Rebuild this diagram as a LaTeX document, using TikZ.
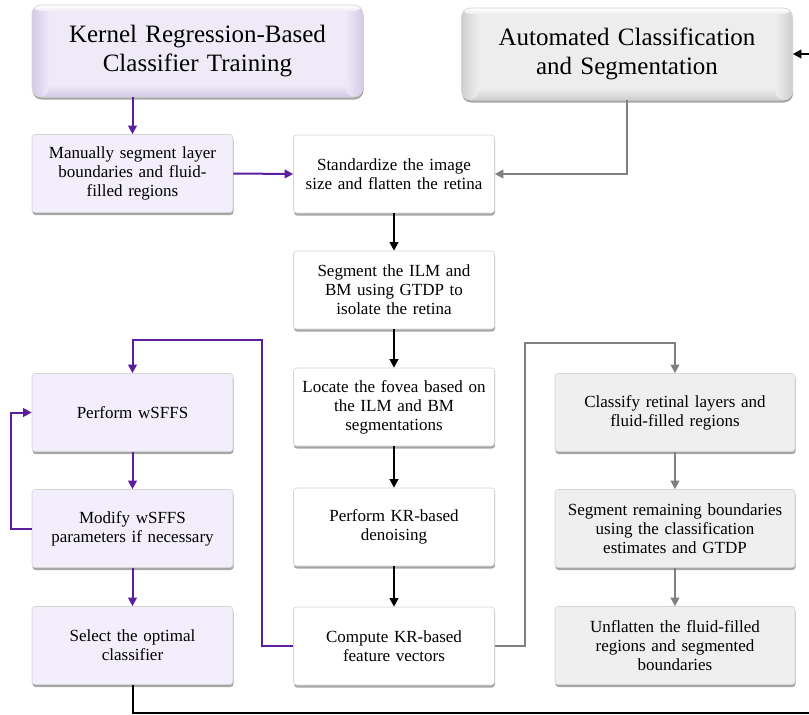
\documentclass[tikz,border=0pt]{standalone}
\usepackage{fontspec}
\setmainfont{Liberation Serif}
\usetikzlibrary{arrows.meta,shadows,calc}
\definecolor{lavbox}{HTML}{F2EEFB}
\definecolor{lavedge}{HTML}{D3CAE6}
\definecolor{lavinner}{HTML}{EEEAF8}
\definecolor{graybox}{HTML}{EFEFEF}
\definecolor{grayedge}{HTML}{CFCFCF}
\definecolor{grayinner}{HTML}{EDEDED}
\definecolor{purp}{HTML}{5A1E9E}
\definecolor{garrow}{HTML}{808080}
\definecolor{bord}{HTML}{D4D4D4}
\tikzset{
  shad/.style={drop shadow={shadow xshift=0.5pt, shadow yshift=-2.5pt, fill=black, opacity=0.35}},
  stepbox/.style={rectangle, rounded corners=3pt, draw=bord, line width=0.6pt, shad,
    minimum width=201pt, minimum height=78pt, text width=190pt, align=center,
    font=\fontsize{17}{19}\selectfont, inner sep=2pt},
  wbox/.style={stepbox, fill=white},
  lbox/.style={stepbox, fill=lavbox},
  gbox/.style={stepbox, fill=graybox, minimum width=240pt, text width=228pt},
  bevel/.style 2 args={path picture={
      \path (path picture bounding box.north west) coordinate (bnw)
            (path picture bounding box.south east) coordinate (bse);
      \fill[#2] (bnw) rectangle (bse);
      \shade[top color=#2, bottom color=#1] ([yshift=12pt]bnw |- bse) rectangle (bse);
      \shade[left color=#1, right color=#2] (bnw) rectangle ([xshift=17pt]bnw |- bse);
      \shade[left color=#2, right color=#1] ([xshift=-17pt]bse |- bnw) rectangle (bse);
      \shade[top color=white, bottom color=#2] (bnw) rectangle ([yshift=-6pt]bse |- bnw);
    }},
  titlebox/.style={rectangle, rounded corners=9pt, draw=bord, line width=0.6pt,
    minimum width=331pt, minimum height=92pt, text width=320pt, align=center,
    font=\fontsize{25}{29}\selectfont, shad},
  t1box/.style={titlebox, fill=lavinner, bevel={lavedge}{lavinner}},
  t2box/.style={titlebox, fill=grayinner, bevel={grayedge}{grayinner}},
  tip/.style={-{Triangle[length=8.5pt,width=8.5pt]}},
  parr/.style={tip, draw=purp, line width=2pt},
  karr/.style={tip, draw=black, line width=2pt},
  garr/.style={tip, draw=garrow, line width=2pt},
}
\begin{document}
\begin{tikzpicture}[x=1pt,y=-1pt]
\useasboundingbox (0,0) rectangle (809,715);
\node[t1box] (t1) at (197.5,51) {Kernel Regression-Based\\Classifier Training};
\node[t2box] (t2) at (627,54) {Automated Classification\\and Segmentation};

\node[lbox] (man) at (132.5,173.5) {Manually segment layer\\boundaries and fluid-\\filled regions};
\node[wbox] (std) at (394,174) {Standardize the image\\size and flatten the retina};
\node[wbox] (ilm) at (394,290) {Segment the ILM and\\BM using GTDP to\\isolate the retina};
\node[wbox] (fov) at (394,407) {Locate the fovea based on\\the ILM and BM\\segmentations};
\node[wbox] (den) at (394,527) {Perform KR-based\\denoising};
\node[wbox] (cmp) at (394,646) {Compute KR-based\\feature vectors};

\node[lbox] (wsf) at (132.5,412.5) {Perform wSFFS};
\node[lbox] (mod) at (132.5,528.5) {Modify wSFFS\\parameters if necessary};
\node[lbox] (sel) at (132.5,645.5) {Select the optimal\\classifier};

\node[gbox] (cls) at (675,412.5) {Classify retinal layers and\\fluid-filled regions};
\node[gbox] (rem) at (675,528.5) {Segment remaining boundaries\\using the classification\\estimates and GTDP};
\node[gbox] (unf) at (675,645.5) {Unflatten the fluid-filled\\regions and segmented\\boundaries};

\coordinate (c1) at (262,340);
\coordinate (c2) at (525,343);
\coordinate (c3) at (813,713);

\draw[parr] (t1.south -| man.north) -- (man.north);
\draw[parr] (man.east) -- (std.west);
\draw[garr] (t2.south) |- (std.east);
\draw[karr] (std) -- (ilm);
\draw[karr] (ilm) -- (fov);
\draw[karr] (fov) -- (den);
\draw[karr] (den) -- (cmp);
\draw[parr] (cmp.west) -| (c1) -| (wsf.north);
\draw[parr] (wsf) -- (mod);
\draw[parr] (mod.west) -- ++(-21,0) |- (wsf.west);
\draw[parr] (mod) -- (sel);
\draw[garr] (cmp.east) -| (c2) -| (cls.north);
\draw[garr] (cls) -- (rem);
\draw[garr] (rem) -- (unf);
\draw[karr] (sel.south) |- (c3) |- (t2.east);
\end{tikzpicture}
\end{document}
